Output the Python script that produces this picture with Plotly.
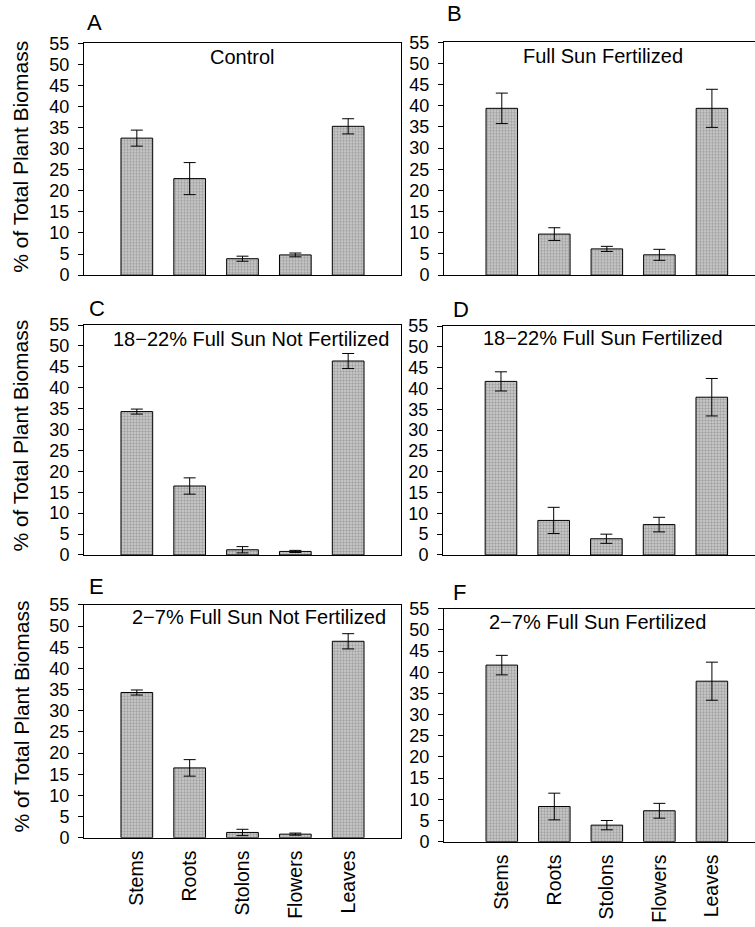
import plotly.graph_objects as go

# Plant parts shown on every panel
parts = ["Stems", "Roots", "Stolons", "Flowers", "Leaves"]

# Mean % of total plant biomass and standard errors, per treatment
control_mean = [32.5, 22.9, 3.9, 4.8, 35.3]
control_err = [1.9, 3.8, 0.6, 0.45, 1.8]

sun_fert_mean = [39.4, 9.7, 6.2, 4.8, 39.4]
sun_fert_err = [3.6, 1.5, 0.6, 1.3, 4.5]

shade20_nofert_mean = [34.3, 16.5, 1.25, 0.85, 46.4]
shade20_nofert_err = [0.6, 1.95, 0.75, 0.25, 1.8]

shade20_fert_mean = [41.7, 8.3, 3.9, 7.3, 37.9]
shade20_fert_err = [2.3, 3.15, 1.1, 1.75, 4.5]

shade5_nofert_mean = [34.3, 16.5, 1.25, 0.85, 46.4]
shade5_nofert_err = [0.6, 1.95, 0.75, 0.25, 1.8]

shade5_fert_mean = [41.7, 8.3, 3.9, 7.3, 37.9]
shade5_fert_err = [2.3, 3.15, 1.1, 1.75, 4.5]

panel_letters = ["A", "B", "C", "D", "E", "F"]
panel_titles = [
    "Control",
    "Full Sun Fertilized",
    "18\u221222% Full Sun Not Fertilized",
    "18\u221222% Full Sun Fertilized",
    "2\u22127% Full Sun Not Fertilized",
    "2\u22127% Full Sun Fertilized",
]
y_title = "% of Total Plant Biomass"
y_ticks = [0, 5, 10, 15, 20, 25, 30, 35, 40, 45, 50, 55]

W, H = 755, 927
FONT = "Liberation Sans, Arial, sans-serif"

series = [
    (control_mean, control_err),
    (sun_fert_mean, sun_fert_err),
    (shade20_nofert_mean, shade20_nofert_err),
    (shade20_fert_mean, shade20_fert_err),
    (shade5_nofert_mean, shade5_nofert_err),
    (shade5_fert_mean, shade5_fert_err),
]

# Panel boxes in pixels: (left, right, top, bottom)
boxes = [
    (84, 401, 34, 271),
    (444, 755, 33, 271),
    (84, 401, 322, 557),
    (443, 755, 323, 557),
    (84, 401, 608, 846),
    (444, 755, 612, 850),
]


def px_x(p):
    return p / W


def px_y(p):
    return 1 - p / H


fig = go.Figure()
layout = dict(
    width=W, height=H, autosize=False,
    margin=dict(l=0, r=0, t=0, b=0),
    paper_bgcolor="white", plot_bgcolor="white",
    showlegend=False,
    font=dict(family=FONT, color="black"),
)

annotations = []
for i, ((mean, err), (l, r, t, b)) in enumerate(zip(series, boxes)):
    n = i + 1
    xa = "x" if n == 1 else f"x{n}"
    ya = "y" if n == 1 else f"y{n}"
    left_col = i % 2 == 0
    bottom_row = i >= 4

    fig.add_trace(go.Bar(
        x=list(range(len(parts))), y=mean, xaxis=xa, yaxis=ya, width=0.6,
        marker=dict(
            color="#bdbdbd",
            line=dict(color="black", width=1),
            pattern=dict(shape=".", fgcolor="#707070", bgcolor="#d0d0d0",
                         size=3, solidity=0.5),
        ),
        error_y=dict(type="data", array=err, visible=True,
                     color="black", thickness=1, width=6),
    ))

    xrange = [-1, 5] if left_col else [-1.1, 4.82]
    layout["xaxis" if n == 1 else f"xaxis{n}"] = dict(
        domain=[px_x(l), px_x(r)], anchor=ya, range=xrange,
        tickmode="array", tickvals=list(range(len(parts))), ticktext=parts,
        showline=True, linecolor="black", linewidth=1, mirror=True,
        ticks="", showgrid=False, zeroline=False,
        showticklabels=bottom_row, tickangle=-90,
        ticklabelstandoff=4,
        tickfont=dict(family=FONT, size=19.5, color="black"),
        automargin=False,
    )
    layout["yaxis" if n == 1 else f"yaxis{n}"] = dict(
        domain=[px_y(b), px_y(t)], anchor=xa, range=[0, 55],
        tickmode="array", tickvals=y_ticks,
        showline=True, linecolor="black", linewidth=1, mirror=left_col,
        ticks="outside", ticklen=5, tickwidth=1, tickcolor="black",
        ticklabelstandoff=5,
        showgrid=False, zeroline=False,
        tickfont=dict(family=FONT, size=18, color="black"),
    )

fig.update_layout(**layout)

# Panel titles (pixel centre x, centre y)
title_pos = [(242, 48), (603, 47), (251, 336), (603, 335), (259, 620), (597, 625)]
for text, (cx, cy) in zip(panel_titles, title_pos):
    annotations.append(dict(
        text=text, x=px_x(cx), y=px_y(cy), xref="paper", yref="paper",
        xanchor="center", yanchor="middle", showarrow=False,
        font=dict(family=FONT, size=20, color="black"),
    ))

# Panel letters (left x, bottom y)
letter_pos = [(85, 28), (445, 18), (87, 320), (451, 321), (87, 604), (451, 610)]
for text, (lx, by) in zip(panel_letters, letter_pos):
    annotations.append(dict(
        text=text, x=px_x(lx), y=px_y(by), xref="paper", yref="paper",
        xanchor="left", yanchor="bottom", showarrow=False,
        font=dict(family=FONT, size=22, color="black"),
    ))

# Y-axis titles for the left column
for cy in [150, 435, 722]:
    annotations.append(dict(
        text=y_title, x=px_x(21), y=px_y(cy), xref="paper", yref="paper",
        xanchor="center", yanchor="middle", textangle=-90, showarrow=False,
        font=dict(family=FONT, size=21, color="black"),
    ))

fig.update_layout(annotations=annotations)
fig.write_html("out.html")
